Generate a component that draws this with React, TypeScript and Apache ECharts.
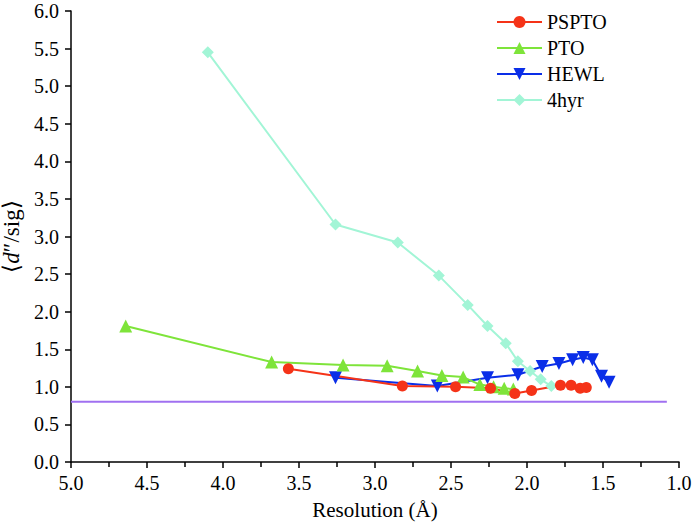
import React, { useEffect, useRef } from "react";
import * as echarts from "echarts";

const xTicks = [5.0, 4.5, 4.0, 3.5, 3.0, 2.5, 2.0, 1.5, 1.0];
const yTicks = [0, 0.5, 1, 1.5, 2, 2.5, 3, 3.5, 4, 4.5, 5, 5.5, 6];

const psptoRes = [3.57, 2.82, 2.47, 2.24, 2.08, 1.97, 1.78, 1.71, 1.65, 1.61];
const psptoVal = [1.24, 1.01, 1.0, 0.98, 0.91, 0.95, 1.02, 1.02, 0.98, 0.99];

const ptoRes = [4.64, 3.68, 3.21, 2.92, 2.72, 2.56, 2.42, 2.31, 2.22, 2.15, 2.09];
const ptoVal = [1.81, 1.33, 1.29, 1.28, 1.21, 1.15, 1.13, 1.03, 1.0, 0.98, 0.97];

const hewlRes = [3.26, 2.59, 2.26, 2.06, 1.9, 1.79, 1.7, 1.63, 1.57, 1.51, 1.46];
const hewlVal = [1.12, 1.01, 1.12, 1.16, 1.27, 1.31, 1.36, 1.39, 1.36, 1.14, 1.06];

const hyrRes = [4.1, 3.26, 2.85, 2.58, 2.39, 2.26, 2.14, 2.06, 1.98, 1.91, 1.84];
const hyrVal = [5.45, 3.16, 2.92, 2.48, 2.09, 1.81, 1.58, 1.34, 1.21, 1.1, 1.01];

const refRes = [5.0, 1.08];
const refVal = [0.8, 0.8];

const zip = (a: number[], b: number[]) => a.map((v, i) => [v, b[i]]);

const FONT = "Liberation Serif, Times New Roman, serif";

export default function App() {
  const ref = useRef<HTMLDivElement>(null);
  useEffect(() => {
    if (!ref.current) return;
    const chart = echarts.init(ref.current, undefined, { renderer: "svg" });
    const mk = (name: string, data: number[][], color: string, symbol: string, size: number) => ({
      name,
      type: "line",
      data,
      symbol,
      symbolSize: size,
      showAllSymbol: true,
      lineStyle: { color, width: 2 },
      itemStyle: { color },
      z: 3,
    });
    chart.setOption({
      animation: false,
      backgroundColor: "#ffffff",
      textStyle: { fontFamily: FONT },
      grid: { left: 71, right: 13, top: 11, bottom: 65, containLabel: false, outerBoundsMode: "none" },
      legend: {
        data: ["PSPTO", "PTO", "HEWL", "4hyr"],
        orient: "vertical",
        left: 496,
        top: 12,
        padding: 0,
        itemWidth: 45,
        itemHeight: 15,
        itemGap: 6,
        textStyle: { fontFamily: FONT, fontSize: 20, color: "#000" },
      },
      xAxis: {
        type: "value",
        inverse: true,
        min: 1,
        max: 5,
        interval: 0.5,
        name: "Resolution (Å)",
        nameLocation: "middle",
        nameGap: 37,
        nameTextStyle: { fontFamily: FONT, fontSize: 21, color: "#000" },
        axisLine: { onZero: false, lineStyle: { color: "#000", width: 1.5 } },
        axisTick: { length: 6, lineStyle: { color: "#000", width: 1.5 } },
        minorTick: { show: true, splitNumber: 2, length: 5, lineStyle: { color: "#000", width: 1.5 } },
        splitLine: { show: false },
        axisLabel: {
          fontFamily: FONT,
          fontSize: 20,
          color: "#000",
          margin: 11,
          formatter: (v: number) => (xTicks.includes(v) ? v.toFixed(1) : ""),
        },
      },
      yAxis: {
        type: "value",
        min: 0,
        max: 6,
        interval: 0.5,
        name: "⟨{i|d}″/sig⟩",
        nameLocation: "middle",
        nameGap: 38,
        nameRotate: 90,
        nameTextStyle: {
          fontFamily: FONT,
          fontSize: 23,
          color: "#000",
          rich: { i: { fontFamily: FONT, fontSize: 23, fontStyle: "italic", color: "#000" } },
        },
        axisLine: { show: true, onZero: false, lineStyle: { color: "#000", width: 1.5 } },
        axisTick: { show: true, length: 6, lineStyle: { color: "#000", width: 1.5 } },
        splitLine: { show: false },
        axisLabel: {
          fontFamily: FONT,
          fontSize: 20,
          color: "#000",
          margin: 12,
          formatter: (v: number) => (yTicks.includes(v) ? v.toFixed(1) : ""),
        },
      },
      series: [
        {
          name: "ref",
          type: "line",
          data: zip(refRes, refVal),
          symbol: "none",
          lineStyle: { color: "#a070f0", width: 2 },
          itemStyle: { color: "#a070f0" },
          z: 1,
        },
        mk("4hyr", zip(hyrRes, hyrVal), "#a2f5d6", "diamond", 12),
        mk("HEWL", zip(hewlRes, hewlVal), "#0a2ee8", "path://M0,0 L10,0 L5,9 Z", 13),
        mk("PTO", zip(ptoRes, ptoVal), "#7ee43a", "triangle", 13),
        mk("PSPTO", zip(psptoRes, psptoVal), "#f53318", "circle", 11),
      ],
    });
    return () => chart.dispose();
  }, []);
  return <div ref={ref} style={{ width: 692, height: 527, position: "absolute", left: 0, top: 0 }} />;
}
